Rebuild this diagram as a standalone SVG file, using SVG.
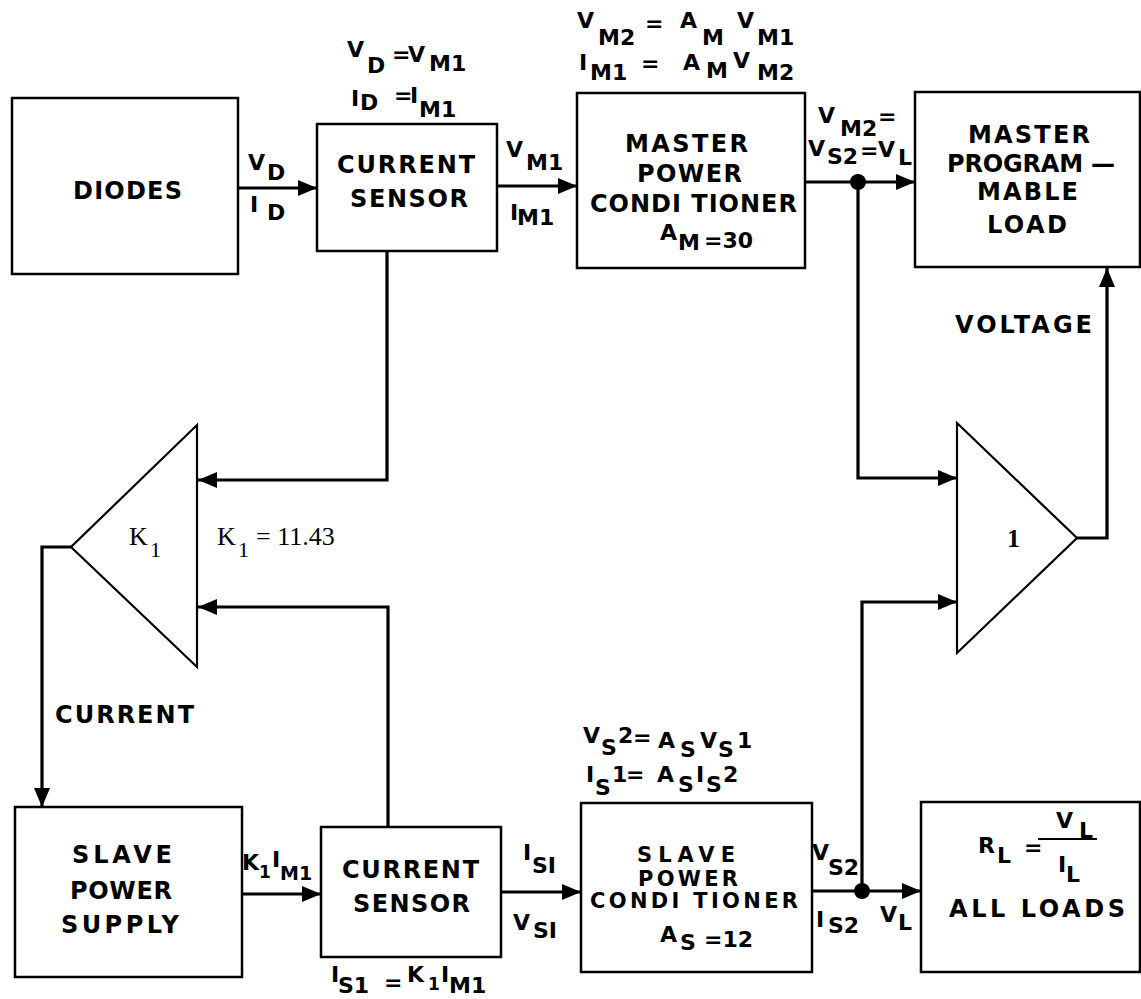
<svg xmlns="http://www.w3.org/2000/svg" width="1141" height="999" viewBox="0 0 1141 999">
<defs>
<style>
.box{fill:none;stroke:#000;stroke-width:2.5}
.amp{fill:none;stroke:#000;stroke-width:2.2;stroke-linejoin:miter}
.w{fill:none;stroke:#000;stroke-width:3.2;stroke-linejoin:miter}
.t{font-family:"DejaVu Sans","Liberation Sans",sans-serif;font-weight:bold;font-size:24px;fill:#000}
.t2{font-family:"DejaVu Sans","Liberation Sans",sans-serif;font-weight:bold;font-size:21px;fill:#000}
.e{font-family:"DejaVu Sans","Liberation Sans",sans-serif;font-weight:bold;font-size:22px;fill:#000}
.s{font-family:"Liberation Serif","DejaVu Serif",serif;font-size:26px;fill:#000}
</style>
<marker id="ah" markerUnits="userSpaceOnUse" markerWidth="20" markerHeight="18" refX="19" refY="9" orient="auto">
<path d="M0,1 L19,9 L0,17 z" fill="#000"/>
</marker>
</defs>
<rect width="1141" height="999" fill="#fff"/>

<g id="connectors">
<line class="w" x1="238" y1="188" x2="317" y2="188" marker-end="url(#ah)"/>
<line class="w" x1="497" y1="186" x2="577" y2="186" marker-end="url(#ah)"/>
<line class="w" x1="805" y1="182" x2="915" y2="182" marker-end="url(#ah)"/>
<circle cx="858" cy="182" r="8" fill="#000"/>
<polyline class="w" points="387,251 387,480 198,480" marker-end="url(#ah)"/>
<polyline class="w" points="858,182 858,478 957,478" marker-end="url(#ah)"/>
<polyline class="w" points="1077,538 1107,538 1107,268" marker-end="url(#ah)"/>
<polyline class="w" points="71,547 42,547 42,807" marker-end="url(#ah)"/>
<polyline class="w" points="388,827 388,607 198,607" marker-end="url(#ah)"/>
<polyline class="w" points="862,891 862,602 957,602" marker-end="url(#ah)"/>
<line class="w" x1="242" y1="894" x2="321" y2="894" marker-end="url(#ah)"/>
<line class="w" x1="501" y1="892" x2="581" y2="892" marker-end="url(#ah)"/>
<line class="w" x1="812" y1="891" x2="921" y2="891" marker-end="url(#ah)"/>
<circle cx="862" cy="891" r="8" fill="#000"/>
</g>

<g id="diodes">
<rect class="box" x="12" y="98" width="226" height="176"/>
<text class="t" x="73" y="199" textLength="109" lengthAdjust="spacing">DIODES</text>
</g>
<text class="e"><tspan x="248" y="170">V</tspan><tspan x="267" y="180">D</tspan></text>
<text class="e"><tspan x="250" y="212">I</tspan><tspan x="267" y="220">D</tspan></text>

<g id="current-sensor-master">
<rect class="box" x="317" y="124" width="180" height="127"/>
<text class="t" x="337" y="173" textLength="138" lengthAdjust="spacing">CURRENT</text>
<text class="t" x="350" y="207" textLength="118" lengthAdjust="spacing">SENSOR</text>
</g>
<text class="e"><tspan x="347" y="57">V</tspan><tspan x="367" y="73">D</tspan><tspan x="392" y="62">=</tspan><tspan x="408" y="62">V</tspan><tspan x="429" y="71">M1</tspan></text>
<text class="e"><tspan x="351" y="106">I</tspan><tspan x="360" y="110">D</tspan><tspan x="394" y="103">=</tspan><tspan x="410" y="103">I</tspan><tspan x="419" y="117">M1</tspan></text>
<text class="e"><tspan x="506" y="157">V</tspan><tspan x="526" y="170">M1</tspan></text>
<text class="e"><tspan x="510" y="220">I</tspan><tspan x="517" y="225">M1</tspan></text>

<g id="master-power-conditioner">
<rect class="box" x="577" y="93" width="228" height="175"/>
<text class="t" x="625" y="152" textLength="123" lengthAdjust="spacing">MASTER</text>
<text class="t" x="637" y="182" textLength="105" lengthAdjust="spacing">POWER</text>
<text class="t" x="590" y="212" textLength="207" lengthAdjust="spacing">CONDI TIONER</text>
<text class="e"><tspan x="660" y="240">A</tspan><tspan x="678" y="250">M</tspan><tspan x="704" y="248">=30</tspan></text>
</g>
<text class="e"><tspan x="577" y="28">V</tspan><tspan x="598" y="45">M2</tspan><tspan x="645" y="31">=</tspan><tspan x="680" y="28">A</tspan><tspan x="702" y="45">M</tspan><tspan x="737" y="28">V</tspan><tspan x="757" y="45">M1</tspan></text>
<text class="e"><tspan x="579" y="70">I</tspan><tspan x="590" y="80">M1</tspan><tspan x="641" y="71">=</tspan><tspan x="683" y="70">A</tspan><tspan x="706" y="78">M</tspan><tspan x="733" y="68">V</tspan><tspan x="757" y="80">M2</tspan></text>
<text class="e"><tspan x="818" y="123">V</tspan><tspan x="840" y="136">M2</tspan><tspan x="878" y="124">=</tspan></text>
<text class="e"><tspan x="808" y="156">V</tspan><tspan x="827" y="164">S2</tspan><tspan x="860" y="158">=</tspan><tspan x="878" y="157">V</tspan><tspan x="898" y="165">L</tspan></text>

<g id="master-programmable-load">
<rect class="box" x="915" y="92" width="225" height="175"/>
<text class="t" x="968" y="143" textLength="122" lengthAdjust="spacing">MASTER</text>
<text class="t" x="947" y="172" textLength="168" lengthAdjust="spacing">PROGRAM —</text>
<text class="t" x="977" y="200" textLength="101" lengthAdjust="spacing">MABLE</text>
<text class="t" x="987" y="233" textLength="80" lengthAdjust="spacing">LOAD</text>
</g>
<text class="t" x="955" y="333" textLength="137" lengthAdjust="spacing">VOLTAGE</text>

<g id="amp-k1">
<polygon class="amp" points="197,425 197,667 71,547"/>
<text class="s"><tspan x="129" y="545">K</tspan><tspan x="150" y="557" font-size="22">1</tspan></text>
</g>
<text class="s"><tspan x="217" y="545">K</tspan><tspan x="238" y="557" font-size="22">1</tspan><tspan x="256" y="545">= 11.43</tspan></text>

<g id="amp-1">
<polygon class="amp" points="957,423 957,653 1077,538"/>
<text class="s" x="1007" y="547" font-weight="bold">1</text>
</g>

<text class="t" x="55" y="723" textLength="139" lengthAdjust="spacing">CURRENT</text>

<g id="slave-power-supply">
<rect class="box" x="15" y="807" width="227" height="170"/>
<text class="t" x="72" y="863" textLength="100" lengthAdjust="spacing">SLAVE</text>
<text class="t" x="70" y="899" textLength="102" lengthAdjust="spacing">POWER</text>
<text class="t" x="61" y="933" textLength="118" lengthAdjust="spacing">SUPPLY</text>
</g>
<text class="e"><tspan x="242" y="870">K</tspan><tspan x="259" y="878" font-size="17">1</tspan><tspan x="272" y="867">I</tspan><tspan x="280" y="880" font-size="19">M1</tspan></text>

<g id="current-sensor-slave">
<rect class="box" x="321" y="827" width="180" height="130"/>
<text class="t" x="342" y="878" textLength="137" lengthAdjust="spacing">CURRENT</text>
<text class="t" x="353" y="912" textLength="117" lengthAdjust="spacing">SENSOR</text>
</g>
<text class="e"><tspan x="331" y="982">I</tspan><tspan x="338" y="993">S1</tspan><tspan x="384" y="990">=</tspan><tspan x="407" y="982">K</tspan><tspan x="428" y="990" font-size="17">1</tspan><tspan x="441" y="982">I</tspan><tspan x="449" y="993">M1</tspan></text>
<text class="e"><tspan x="523" y="860">I</tspan><tspan x="532" y="873">SI</tspan></text>
<text class="e"><tspan x="513" y="930">V</tspan><tspan x="533" y="938">SI</tspan></text>

<g id="slave-power-conditioner">
<rect class="box" x="581" y="803" width="231" height="169"/>
<text class="t2" x="637" y="862" textLength="98" lengthAdjust="spacing">SLAVE</text>
<text class="t2" x="638" y="886" textLength="100" lengthAdjust="spacing">POWER</text>
<text class="t2" x="590" y="908" textLength="208" lengthAdjust="spacing">CONDI TIONER</text>
<text class="e"><tspan x="660" y="942">A</tspan><tspan x="680" y="950">S</tspan><tspan x="704" y="947">=12</tspan></text>
</g>
<text class="e"><tspan x="583" y="743">V</tspan><tspan x="601" y="755">S</tspan><tspan x="618" y="743">2</tspan><tspan x="633" y="745">=</tspan><tspan x="658" y="748">A</tspan><tspan x="680" y="757">S</tspan><tspan x="700" y="748">V</tspan><tspan x="718" y="757">S</tspan><tspan x="737" y="748">1</tspan></text>
<text class="e"><tspan x="586" y="782">I</tspan><tspan x="595" y="795">S</tspan><tspan x="612" y="782">1</tspan><tspan x="626" y="782">=</tspan><tspan x="657" y="782">A</tspan><tspan x="678" y="792">S</tspan><tspan x="696" y="782">I</tspan><tspan x="706" y="792">S</tspan><tspan x="723" y="782">2</tspan></text>
<text class="e"><tspan x="812" y="860">V</tspan><tspan x="828" y="875">S2</tspan></text>
<text class="e"><tspan x="816" y="927">I</tspan><tspan x="828" y="933">S2</tspan></text>
<text class="e"><tspan x="880" y="922">V</tspan><tspan x="898" y="930">L</tspan></text>

<g id="all-loads">
<rect class="box" x="921" y="802" width="219" height="170"/>
<text class="e"><tspan x="978" y="853">R</tspan><tspan x="997" y="863">L</tspan><tspan x="1024" y="855">=</tspan></text>
<line x1="1038" y1="839" x2="1097" y2="839" stroke="#000" stroke-width="2"/>
<text class="e"><tspan x="1056" y="828">V</tspan><tspan x="1079" y="838">L</tspan></text>
<text class="e"><tspan x="1058" y="872">I</tspan><tspan x="1066" y="882">L</tspan></text>
<text class="t" x="949" y="917" textLength="176" lengthAdjust="spacing">ALL LOADS</text>
</g>
</svg>
